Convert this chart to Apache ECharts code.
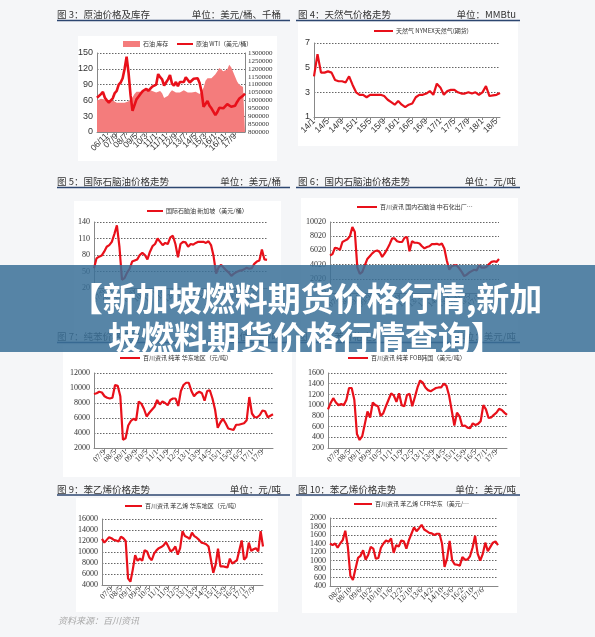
<!DOCTYPE html>
<html>
<head>
<meta charset="utf-8">
<script src="https://cdn.jsdelivr.net/npm/echarts@6/dist/echarts.min.js"></script>
<style>
html, body { margin: 0; padding: 0; background: #f5f6f8; }
#main { width: 595px; height: 637px; }
</style>
</head>
<body>
<div id="main"></div>
<script>
// month labels like "07/1", step in months
function monthLabels (year, month, step, count) {
  const out = []
  for (let i = 0; i < count; i++) {
    out.push(String(year % 100).padStart(2, '0') + '/' + month)
    month += step
    while (month > 12) { month -= 12; year++ }
  }
  return out
}

// 图3 原油 (06/1 - 18/7, every 2 months)
const cat1 = monthLabels(2006, 1, 2, 76)
const stock = [1000000, 1005000, 1010000, 1010000, 1005000, 995000, 990000, 995000, 1000000, 995000,
  985000, 980000, 985000, 990000, 985000, 990000, 995000, 1000000, 1020000, 1040000,
  1055000, 1060000, 1055000, 1050000, 1055000, 1065000, 1070000, 1065000, 1060000, 1055000,
  1050000, 1055000, 1060000, 1045000, 1015000, 1005000, 1030000, 1050000, 1065000, 1060000,
  1050000, 1045000, 1050000, 1060000, 1065000, 1060000, 1050000, 1045000, 1050000, 1060000,
  1055000, 1045000, 1040000, 1030000, 1080000, 1125000, 1140000, 1135000, 1140000, 1150000,
  1165000, 1185000, 1205000, 1200000, 1185000, 1175000, 1195000, 1225000, 1210000, 1180000,
  1150000, 1120000, 1100000, 1090000, 1085000, 1090000]
const wti = [65, 62, 72, 76, 65, 60, 56, 60, 64, 74,
  78, 90, 94, 102, 120, 143, 112, 70, 40, 42,
  62, 67, 72, 77, 78, 82, 78, 80, 86, 88,
  90, 110, 104, 100, 88, 94, 100, 108, 92, 88,
  95, 87, 95, 93, 95, 104, 106, 94, 95, 101,
  102, 102, 93, 76, 48, 48, 59, 50, 45, 42,
  32, 38, 46, 45, 45, 47, 53, 50, 48, 46,
  50, 57, 63, 64, 69, 73]

// 图4 天然气 (14/1 - 18/6, monthly)
const cat2 = monthLabels(2014, 1, 1, 54)
const gas = [4.3, 6.1, 4.6, 4.6, 4.7, 4.6, 4.0, 3.9, 3.9, 3.8, 4.3, 3.6,
  3.0, 2.8, 2.8, 2.6, 2.8, 2.8, 2.8, 2.8, 2.7, 2.4, 2.2, 2.0,
  2.3, 2.0, 1.8, 2.0, 2.1, 2.6, 2.8, 2.8, 2.9, 3.1, 2.8, 3.7,
  3.4, 2.8, 3.1, 3.2, 3.2, 3.0, 2.9, 2.9, 3.0, 2.9, 3.0, 2.8,
  3.0, 3.5, 2.7, 2.75, 2.8, 2.95]

// 07/1 - 18/5, every 2 months
const catA = monthLabels(2007, 1, 2, 69)
const naphthaSg = [56, 74, 77, 79, 86, 95, 98, 104, 118, 134,
  95, 35, 38, 48, 55, 68, 70, 72, 80, 84,
  80, 72, 86, 96, 100, 110, 104, 98, 102, 100,
  112, 115, 100, 76, 100, 104, 103, 95, 100, 99,
  102, 104, 104, 104, 102, 105, 98, 78, 46, 58,
  62, 57, 52, 48, 42, 46, 49, 51, 52, 54,
  57, 55, 56, 64, 68, 70, 90, 72, 71]
const naphthaCn = [5300, 5500, 6400, 6300, 6100, 7200, 7400, 7600, 8000, 9300,
  8600, 3600, 2700, 3000, 3900, 4800, 5200, 5600, 5900, 6000,
  5800, 5100, 5600, 6200, 6900, 7700, 7700, 7300, 7200, 7200,
  7800, 7900, 5900, 7300, 7100, 7100, 7000, 6600, 6300, 6500,
  6600, 6900, 6900, 6950, 6800, 7000, 6300, 4600, 3300, 3800,
  3900, 3900, 3500, 3000, 2400, 2600, 2900, 3100, 3300, 3200,
  3900, 3600, 3600, 3700, 4100, 4400, 4500, 4400, 4800]
const benzeneCn = [9200, 9300, 9500, 9400, 8900, 8700, 8600, 8700, 10400, 10300,
  8900, 3100, 3300, 5000, 5600, 5900, 5700, 8200, 7900, 7200,
  6200, 6700, 7100, 7500, 8400, 7800, 8200, 8000, 7700, 8400,
  8600, 8600, 7600, 9600, 10400, 10700, 10700, 9600, 8900, 9300,
  9500, 9300, 8300, 9600, 9700, 8600, 7100, 4700, 5400, 5900,
  5300, 4600, 4500, 4400, 5100, 5100, 5200, 5300, 5700, 8800,
  6600, 6100, 6100, 6400, 7000, 6900, 6100, 6300, 6500]
const benzeneFob = [920, 1040, 1130, 1050, 1000, 1020, 1000, 1100, 1320, 1320,
  1100, 460, 350, 420, 650, 880, 770, 1050, 1000, 980,
  800, 850, 980, 1100, 1220, 1180, 1060, 1220, 1000, 980,
  1190, 1210, 980, 1150, 1330, 1460, 1420, 1330, 1280, 1260,
  1290, 1320, 1330, 1330, 1400, 1360, 1180, 900, 620, 860,
  790, 610, 620, 580, 570, 660, 630, 650, 700, 1000,
  920, 760, 770, 820, 860, 930, 910, 860, 820]
const styreneCn = [12400, 11700, 12200, 12700, 12500, 12200, 12100, 11900, 12800, 12500,
  12000, 5200, 4600, 6800, 9400, 8400, 8800, 8400, 10300, 10100,
  9000, 8500, 9700, 10300, 10700, 10900, 11200, 11800, 11000, 10100,
  10400, 11000, 9500, 10700, 13800, 12900, 12700, 12400, 13500, 12900,
  12600, 12200, 11700, 11600, 11400, 11000, 8600, 6200, 7700, 10600,
  7400, 7400, 7300, 7200, 8800, 7900, 8200, 8500, 10300, 12100,
  8600, 9100, 11700, 10200, 10500, 10700, 10100, 13800, 11000]

// 图10 (07/6 - 18/6, every 2 months)
const catB = monthLabels(2007, 6, 2, 67)
const styreneCfr = [1400, 1360, 1400, 1300, 1400, 1480, 1700, 1330, 640, 540,
  800, 1060, 1110, 1240, 1020, 1130, 1320, 1280, 1040, 1060,
  1300, 1400, 1470, 1440, 1520, 1180, 1360, 1330, 1470, 1450,
  1280, 1480, 1630, 1780, 1690, 1760, 1840, 1730, 1690, 1650,
  1640, 1600, 1630, 1630, 1400, 850, 1050, 1460, 1000, 910,
  900, 880, 1080, 1020, 1020, 1100, 1300, 1580, 1160, 1000,
  1150, 1420, 1220, 1320, 1420, 1450, 1360]

const RED = '#e8101a'
const SANS = 'Liberation Sans'
const SERIF = 'Liberation Serif'
const CJK = 'Noto Sans CJK SC'

const grids = [
  { left: 97, top: 53, width: 148, height: 79 },
  { left: 314, top: 43, width: 186, height: 74 },
  { left: 94, top: 222, width: 173, height: 66 },
  { left: 330, top: 222, width: 169, height: 71 },
  { left: 94, top: 373, width: 179, height: 75 },
  { left: 328, top: 373, width: 179, height: 75 },
  { left: 102, top: 519, width: 161, height: 66 },
  { left: 330, top: 518, width: 168, height: 68 }
]

function xAxis (gridIndex, data, every, font, size) {
  return {
    type: 'category',
    gridIndex,
    data,
    boundaryGap: false,
    axisLine: { lineStyle: { color: '#888' } },
    axisTick: { show: true, interval: every - 1, length: 3, lineStyle: { color: '#888' } },
    axisLabel: { interval: every - 1, rotate: 45, fontSize: size || 8, margin: 3, color: '#333', fontFamily: font }
  }
}

function yAxis (gridIndex, min, max, interval, font, size) {
  return {
    type: 'value',
    gridIndex,
    min,
    max,
    interval,
    axisLine: { show: true, lineStyle: { color: '#888' } },
    axisTick: { show: false },
    axisLabel: { fontSize: size || 8, margin: 4, color: '#333', fontFamily: font, formatter: v => String(v) },
    splitLine: { lineStyle: { type: [1.5, 1.5], color: '#666', width: 1 } }
  }
}

function line (name, xi, yi, data) {
  return {
    name,
    type: 'line',
    xAxisIndex: xi,
    yAxisIndex: yi,
    data,
    symbol: 'none',
    lineStyle: { color: RED, width: 2.2 },
    itemStyle: { color: RED }
  }
}

function legend (name, left, top, w, h) {
  return {
    data: [name],
    left,
    top,
    padding: 0,
    icon: 'rect',
    itemWidth: w,
    itemHeight: h,
    itemGap: 4,
    textStyle: { fontSize: 6, color: '#333', fontFamily: CJK, padding: [0, 0, 0, -2] }
  }
}

function panel (x, y, w, h) {
  return { type: 'rect', z: -10, shape: { x, y, width: w, height: h }, style: { fill: '#fff' } }
}

function header (y, leftTitle, leftUnit, rightTitle, rightUnit) {
  const font = '9.5px "' + CJK + '"'
  return [
    { type: 'text', z: -5, style: { text: leftTitle, x: 57, y, font, fill: '#333', textVerticalAlign: 'middle' } },
    { type: 'text', z: -5, style: { text: leftUnit, x: 281, y, font, fill: '#333', textAlign: 'right', textVerticalAlign: 'middle' } },
    { type: 'text', z: -5, style: { text: rightTitle, x: 298, y, font, fill: '#333', textVerticalAlign: 'middle' } },
    { type: 'text', z: -5, style: { text: rightUnit, x: 516, y, font, fill: '#333', textAlign: 'right', textVerticalAlign: 'middle' } },
    { type: 'line', z: -5, shape: { x1: 57, y1: y + 6, x2: 290, y2: y + 6 }, style: { stroke: '#2c4670', lineWidth: 1.5 } },
    { type: 'line', z: -5, shape: { x1: 296, y1: y + 6, x2: 520, y2: y + 6 }, style: { stroke: '#2c4670', lineWidth: 1.5 } }
  ]
}

const bannerFont = 'bold 33px "' + CJK + '"'
const graphics = [
  panel(78, 36, 199, 125),
  panel(298, 22, 220, 124),
  panel(74, 201, 207, 135),
  panel(301, 198, 217, 138),
  panel(63, 345, 229, 132),
  panel(296, 345, 224, 132),
  panel(76, 498, 202, 114),
  panel(302, 497, 215, 116),
  ...header(14.5, '图 3：原油价格及库存', '单位：美元/桶、千桶', '图 4：天然气价格走势', '单位：MMBtu'),
  ...header(181.5, '图 5：国际石脑油价格走势', '单位：美元/桶', '图 6：国内石脑油价格走势', '单位：元/吨'),
  ...header(336.5, '图 7：纯苯价格走势', '单位：元/吨', '图 8：纯苯价格走势', '单位：美元/吨'),
  ...header(489, '图 9：苯乙烯价格走势', '单位：元/吨', '图 10：苯乙烯价格走势', '单位：美元/吨'),
  { type: 'text', z: -5, style: { text: '资料来源：百川资讯', x: 58, y: 621, font: 'italic 9px "' + CJK + '"', fill: '#a8a8a8', textVerticalAlign: 'middle' } },
  { type: 'rect', z: 100, shape: { x: 0, y: 265, width: 595, height: 87 }, style: { fill: 'rgba(58,112,152,0.85)' } },
  {
    type: 'text',
    z: 101,
    style: {
      text: '【新加坡燃料期货价格行情,新加',
      x: 306, y: 298, font: bannerFont, fill: '#fff', textAlign: 'center', textVerticalAlign: 'middle',
      shadowColor: 'rgba(0,0,0,0.5)', shadowBlur: 3, shadowOffsetX: 1, shadowOffsetY: 1
    }
  },
  {
    type: 'text',
    z: 101,
    style: {
      text: '坡燃料期货价格行情查询】',
      x: 306, y: 337, font: bannerFont, fill: '#fff', textAlign: 'center', textVerticalAlign: 'middle',
      shadowColor: 'rgba(0,0,0,0.5)', shadowBlur: 3, shadowOffsetX: 1, shadowOffsetY: 1
    }
  }
]

const stockAxis = yAxis(0, 800000, 1300000, 50000, SERIF, 7)
stockAxis.position = 'right'
stockAxis.splitLine = { show: false }
stockAxis.axisLabel.margin = 3

const option = {
  backgroundColor: '#f5f6f8',
  animation: false,
  grid: grids,
  xAxis: [
    xAxis(0, cat1, 5, SANS, 8.5),
    xAxis(1, cat2, 4, SANS, 8.5),
    xAxis(2, catA, 4, SERIF),
    xAxis(3, catA, 4, SERIF),
    xAxis(4, catA, 4, SERIF),
    xAxis(5, catA, 4, SERIF),
    xAxis(6, catA, 4, SERIF),
    xAxis(7, catB, 4, SERIF)
  ],
  yAxis: [
    yAxis(0, 0, 150, 30, SANS, 9),
    stockAxis,
    yAxis(1, 1, 7, 2, SANS, 9),
    yAxis(2, 20, 140, 30, SERIF),
    yAxis(3, 20, 10020, 2000, SERIF),
    yAxis(4, 2000, 12000, 2000, SERIF),
    yAxis(5, 200, 1600, 200, SERIF),
    yAxis(6, 4000, 16000, 2000, SERIF),
    yAxis(7, 400, 2000, 200, SERIF)
  ],
  legend: [
    legend('石油 库存', 123, 41, 17, 6),
    legend('原油 WTI（美元/桶）', 177, 41, 16, 2),
    legend('天然气 NYMEX天然气(期货)', 374, 28, 19, 2),
    legend('国际石脑油 新加坡（美元/桶）', 147, 208, 16, 2),
    legend('百川资讯 国内石脑油 中石化出厂…', 357, 204, 20, 2),
    legend('百川资讯 纯苯 华东地区（元/吨）', 120, 355, 20, 2),
    legend('百川资讯 纯苯 FOB韩国（美元/吨）', 348, 355, 20, 2),
    legend('百川资讯 苯乙烯 华东地区（元/吨）', 125, 503, 17, 2),
    legend('百川资讯 苯乙烯 CFR华东（美元/…', 354, 501, 18, 2)
  ],
  graphic: { elements: graphics },
  series: [
    {
      name: '石油 库存',
      type: 'line',
      xAxisIndex: 0,
      yAxisIndex: 1,
      data: stock,
      symbol: 'none',
      lineStyle: { width: 0 },
      itemStyle: { color: '#f47c7c' },
      areaStyle: { color: '#f47c7c', opacity: 1 }
    },
    line('原油 WTI（美元/桶）', 0, 0, wti),
    line('天然气 NYMEX天然气(期货)', 1, 2, gas),
    line('国际石脑油 新加坡（美元/桶）', 2, 3, naphthaSg),
    line('百川资讯 国内石脑油 中石化出厂…', 3, 4, naphthaCn),
    line('百川资讯 纯苯 华东地区（元/吨）', 4, 5, benzeneCn),
    line('百川资讯 纯苯 FOB韩国（美元/吨）', 5, 6, benzeneFob),
    line('百川资讯 苯乙烯 华东地区（元/吨）', 6, 7, styreneCn),
    line('百川资讯 苯乙烯 CFR华东（美元/…', 7, 8, styreneCfr)
  ]
}
option.series[1].lineStyle.width = 2.6

const chart = echarts.init(document.getElementById('main'))
chart.setOption(option)
</script>
</body>
</html>
